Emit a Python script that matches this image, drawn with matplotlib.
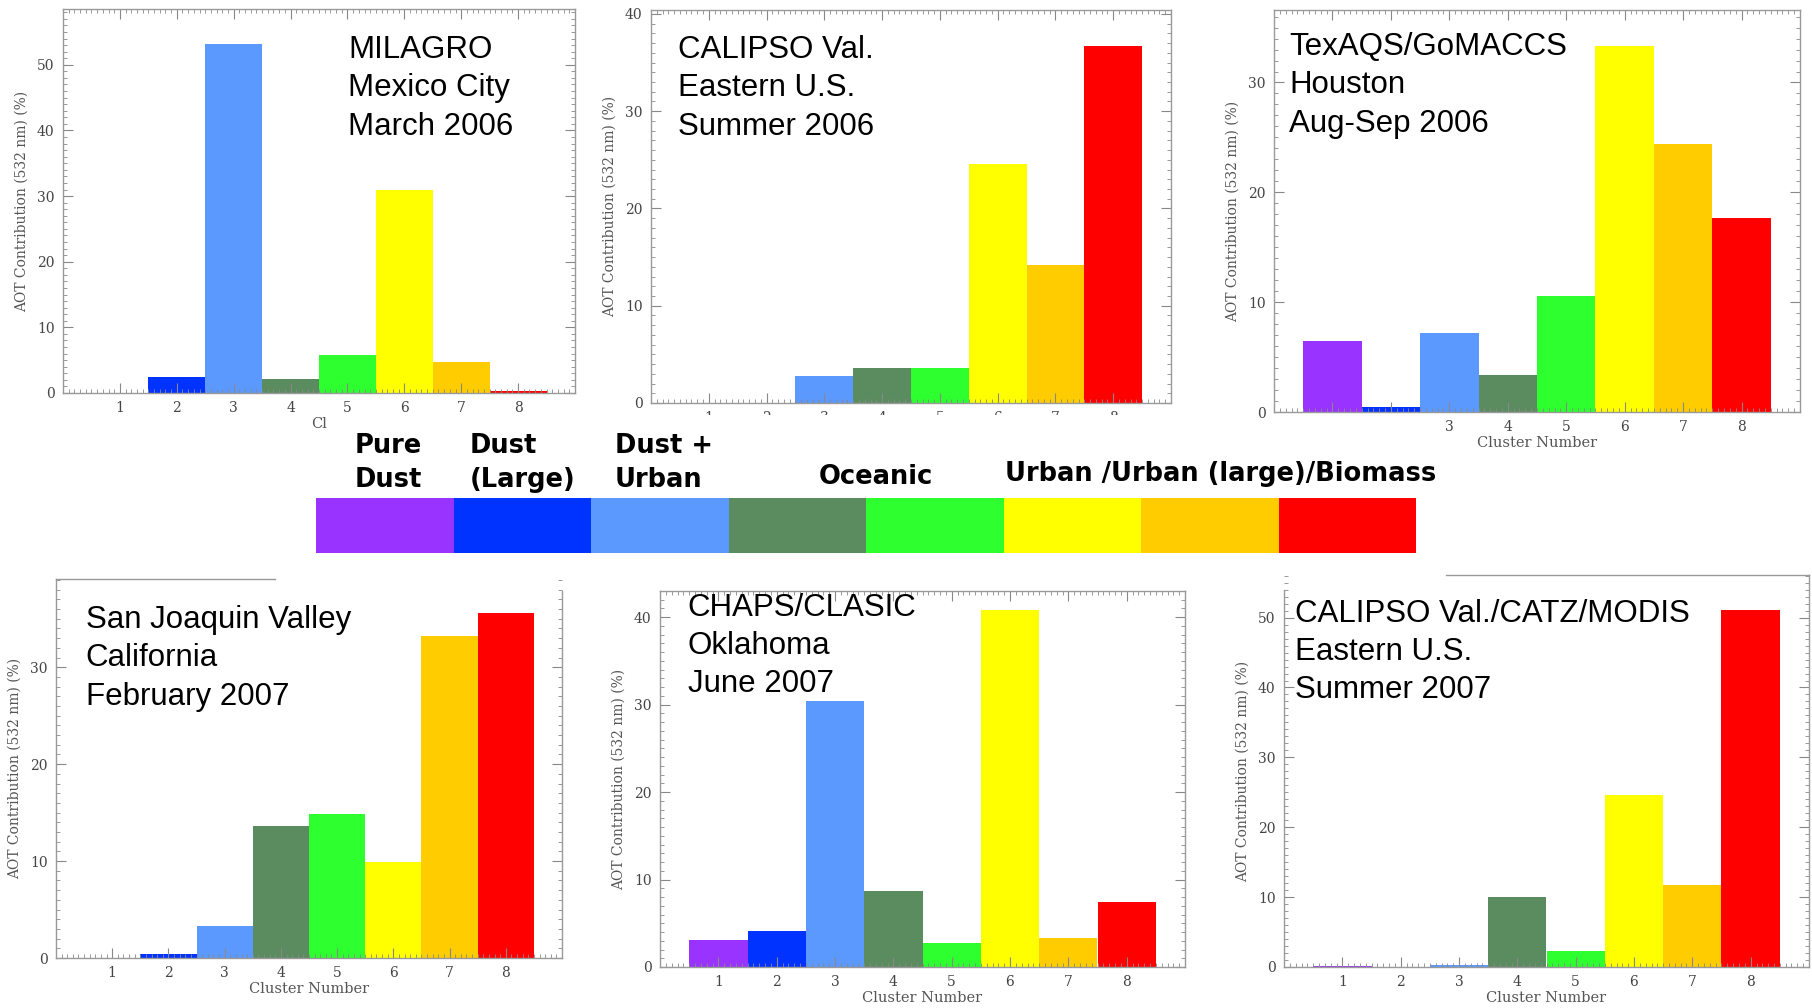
import numpy as np
import matplotlib
matplotlib.use("Agg")
import matplotlib.pyplot as plt
from matplotlib.patches import Rectangle
from matplotlib.ticker import MultipleLocator, FixedLocator

# cluster colours (1..8)
clusters = [1, 2, 3, 4, 5, 6, 7, 8]
colors = ['#9933ff', '#0033ff', '#5b99ff', '#5a8c5f',
          '#2eff2e', '#ffff00', '#ffcc00', '#ff0000']

# AOT contribution (%) per cluster
milagro = [0, 2.5, 53.1, 2.1, 5.8, 31.0, 4.75, 0.35]
calipso06 = [0, 0, 2.75, 3.6, 3.55, 24.6, 14.15, 36.7]
texaqs = [6.5, 0.45, 7.15, 3.4, 10.55, 33.3, 24.4, 17.7]
sjv = [0, 0.4, 3.25, 13.6, 14.85, 9.9, 33.2, 35.6]
chaps = [3.05, 4.1, 30.4, 8.65, 2.8, 40.8, 3.35, 7.45]
calipso07 = [0.15, 0, 0.35, 10.0, 2.3, 24.6, 11.7, 51.1]

titles = ["MILAGRO\nMexico City\nMarch 2006",
          "CALIPSO Val.\nEastern U.S.\nSummer 2006",
          "TexAQS/GoMACCS\nHouston\nAug-Sep 2006",
          "San Joaquin Valley\nCalifornia\nFebruary 2007",
          "CHAPS/CLASIC\nOklahoma\nJune 2007",
          "CALIPSO Val./CATZ/MODIS\nEastern U.S.\nSummer 2007"]

legend_labels = ["Pure\nDust", "Dust\n(Large)", "Dust +\nUrban", "Oceanic",
                 "Urban /Urban (large)/Biomass"]

W, H = 1812, 1008
plt.rcParams['font.family'] = ['DejaVu Serif']
fig = plt.figure(figsize=(W / 100, H / 100), dpi=100)


def px(l, t, r, b):
    return [l / W, 1 - b / H, (r - l) / W, (b - t) / H]


#panel layout: (rect, ylim top, title x, title y, xlabel)
panels = [
    (px(63, 9, 575, 393), 58.5, 0.557, 0.932, "Cl", milagro),
    (px(651, 10, 1171, 403), 40.4, 0.052, 0.936, "", calipso06),
    (px(1274, 10, 1800, 412), 36.6, 0.0285, 0.945, "Cluster Number", texaqs),
    (px(56, 579, 562, 958), 39.1, 0.059, 0.931, "Cluster Number", sjv),
    (px(660, 591, 1185, 967), 43.0, 0.053, 0.995, "Cluster Number", chaps),
    (px(1284, 575, 1809, 967), 56.1, 0.021, 0.939, "Cluster Number", calipso07),
]

axes = []
for i, (rect, ytop, tx, ty, xlab, vals) in enumerate(panels):
    ax = fig.add_axes(rect)
    ax.bar(clusters, vals, width=1.0, color=colors, linewidth=0)
    ax.set_xlim(0, 9)
    ax.set_ylim(0, ytop)
    ax.xaxis.set_major_locator(FixedLocator(clusters))
    ax.xaxis.set_minor_locator(MultipleLocator(0.1))
    ax.yaxis.set_major_locator(MultipleLocator(10))
    ax.yaxis.set_minor_locator(MultipleLocator(1))
    ax.tick_params(which='both', direction='in', top=True, right=True,
                   color='#888888', labelcolor='#444444', labelsize=10)
    ax.tick_params(which='major', length=7, width=0.8, pad=6)
    ax.tick_params(which='minor', length=3, width=0.6)
    for s in ax.spines.values():
        s.set_color('#999999')
        s.set_linewidth(1.0)
    ax.set_ylabel("AOT Contribution (532 nm) (%)", fontsize=10,
                  color='#555555', labelpad=6)
    if xlab:
        ax.set_xlabel(xlab, fontsize=10.5, color='#555555', labelpad=1)
    ax.text(tx, ty, titles[i], transform=ax.transAxes, va='top', ha='left',
            fontsize=22.5, family=['Liberation Sans', 'DejaVu Sans'],
            linespacing=1.36, color='black')
    axes.append(ax)

# TexAQS panel shows only labels 3..8
axes[2].set_xticklabels(['', '', '3', '4', '5', '6', '7', '8'])

# partly cropped frames in the bottom row
axes[3].spines['top'].set_bounds(0, 3.9)
axes[3].spines['right'].set_bounds(0, 37.9)
axes[3].tick_params(which='both', top=False)
axes[5].spines['top'].set_bounds(2.78, 9)
axes[5].spines['left'].set_bounds(0, 53.9)
axes[5].tick_params(which='both', top=False)

# tick labels of the CALIPSO 2006 panel are cut off in the original
fig.patches.append(Rectangle((640 / W, 1 - 445 / H), 545 / W, 30 / H,
                             transform=fig.transFigure, facecolor='white',
                             edgecolor='none', zorder=2.5))

# colour key
kax = fig.add_axes(px(316, 498, 1416, 553))
kax.bar(clusters, [1] * 8, width=1.0, color=colors, linewidth=0)
kax.set_xlim(0.5, 8.5)
kax.set_ylim(0, 1)
kax.axis('off')

key_pos = [(355, 433), (470, 433), (615, 433), (819, 464), (1005, 461)]
for lab, (x, y) in zip(legend_labels, key_pos):
    fig.text(x / W, 1 - y / H, lab, ha='left', va='top', fontsize=18.5,
             fontweight='bold', family=['DejaVu Sans'], linespacing=1.4,
             zorder=3)

fig.savefig("out.png", dpi=100, facecolor='white')
